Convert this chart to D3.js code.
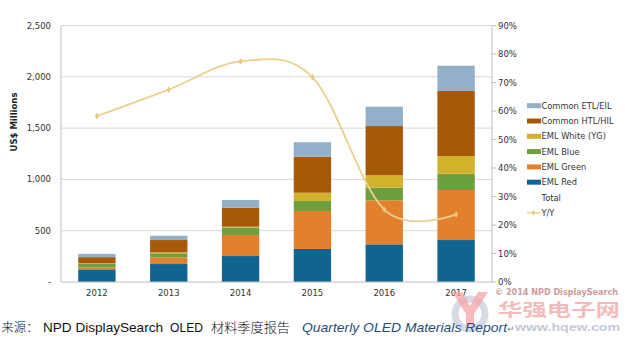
<!DOCTYPE html>
<html><head><meta charset="utf-8">
<script src="https://cdn.jsdelivr.net/npm/d3@7"></script>
<style>html,body{margin:0;padding:0;background:#fff;}svg{display:block;}</style>
</head><body>
<script>
const years = ["2012","2013","2014","2015","2016","2017"];
const emlRed    = [123, 175, 253, 322, 367, 409];
const emlGreen  = [20, 66, 205, 370, 429, 488];
const emlBlue   = [33, 39, 71, 97, 123, 159];
const emlWhite  = [8, 10, 10, 81, 121, 172];
const commonHTL = [58, 119, 185, 351, 480, 634];
const commonETL = [32, 42, 75, 141, 189, 246];
const yoyPct    = [58.2, 67.5, 77.4, 71.9, 25.4, 23.7];
const leftTicks = [0, 500, 1000, 1500, 2000, 2500];
const rightTicks = [0,10,20,30,40,50,60,70,80,90];

const seriesNames = ["EML Red","EML Green","EML Blue","EML White (YG)","Common HTL/HIL","Common ETL/EIL"];
const seriesVals = [emlRed, emlGreen, emlBlue, emlWhite, commonHTL, commonETL];
const colors = ["#0f6491","#e3802c","#6e9f3f","#d2b12b","#a85908","#94afc9"];

const W=625,H=339;
const svg=d3.select("body").append("svg").attr("width",W).attr("height",H);
const font="DejaVu Sans, Verdana, sans-serif";

const x=d3.scaleBand().domain(years).range([61,492]).paddingInner(0.48).paddingOuter(0.24);
const y=d3.scaleLinear().domain([0,2500]).range([282,25.5]);
const y2=d3.scaleLinear().domain([0,90]).range([282,25.5]);

// gridlines
svg.append("g").selectAll("line").data(leftTicks.slice(1)).join("line")
  .attr("x1",61).attr("x2",492).attr("y1",d=>y(d)).attr("y2",d=>y(d))
  .attr("stroke","#d9d9d9").attr("stroke-width",1);

// stacked bars
const table = years.map((yr,i)=>{const o={year:yr};seriesNames.forEach((n,k)=>o[n]=seriesVals[k][i]);return o;});
const stack=d3.stack().keys(seriesNames)(table);
svg.append("g").selectAll("g").data(stack).join("g").attr("fill",(d,i)=>colors[i])
  .selectAll("rect").data(d=>d).join("rect")
  .attr("x",d=>x(d.data.year)).attr("width",x.bandwidth())
  .attr("y",d=>y(d[1])).attr("height",d=>y(d[0])-y(d[1]));

// axes lines
svg.append("line").attr("x1",61).attr("x2",61).attr("y1",25.5).attr("y2",282).attr("stroke","#bfbfbf");
svg.append("line").attr("x1",61).attr("x2",492).attr("y1",282).attr("y2",282).attr("stroke","#bfbfbf");
svg.append("line").attr("x1",492).attr("x2",492).attr("y1",25.5).attr("y2",282).attr("stroke","#bfbfbf");

// left labels
svg.append("g").selectAll("text").data(leftTicks).join("text")
  .attr("x",51).attr("y",d=>y(d)+3).attr("text-anchor","end")
  .attr("font-family",font).attr("font-size",8.5).attr("fill","#333")
  .text(d=>d===0?"-":d3.format(",")(d));
svg.append("text").attr("transform","translate(17,122) rotate(-90)")
  .attr("text-anchor","middle").attr("font-family",font).attr("font-size",8.5)
  .attr("font-weight","bold").attr("fill","#222").text("US$ Millions");

// right axis
svg.append("g").selectAll("line").data(rightTicks).join("line")
  .attr("x1",492).attr("x2",496).attr("y1",d=>y2(d)).attr("y2",d=>y2(d)).attr("stroke","#bfbfbf");
svg.append("g").selectAll("text").data(rightTicks).join("text")
  .attr("x",498).attr("y",d=>y2(d)+3).attr("font-family",font).attr("font-size",8.5).attr("fill","#333")
  .text(d=>d+"%");

// x labels
svg.append("g").selectAll("text").data(years).join("text")
  .attr("x",d=>x(d)+x.bandwidth()/2).attr("y",296).attr("text-anchor","middle")
  .attr("font-family",font).attr("font-size",8.5).attr("fill","#333").text(d=>d);

// Y/Y line
const lineColor="#ebd191";
const line=d3.line().x((d,i)=>x(years[i])+x.bandwidth()/2).y(d=>y2(d)).curve(d3.curveCardinal.tension(0));
svg.append("path").datum(yoyPct).attr("d",line).attr("fill","none").attr("stroke",lineColor).attr("stroke-width",1.8);
svg.append("g").selectAll("path").data(yoyPct).join("path")
  .attr("d",d3.symbol(d3.symbolDiamond,14)())
  .attr("transform",(d,i)=>`translate(${x(years[i])+x.bandwidth()/2},${y2(d)})`)
  .attr("fill","#e6c97e");

// legend
const legendItems=[
  {n:"Common ETL/EIL",c:colors[5]},{n:"Common HTL/HIL",c:colors[4]},{n:"EML White (YG)",c:colors[3]},
  {n:"EML Blue",c:colors[2]},{n:"EML Green",c:colors[1]},{n:"EML Red",c:colors[0]},
  {n:"Total",c:null},{n:"Y/Y",c:"line"}];
const lg=svg.append("g");
legendItems.forEach((it,i)=>{
  const ly=105.7+i*15.3;
  if(it.c==="line"){
    lg.append("line").attr("x1",527).attr("x2",540).attr("y1",ly).attr("y2",ly).attr("stroke",lineColor).attr("stroke-width",1.5);
    lg.append("path").attr("d",d3.symbol(d3.symbolDiamond,10)()).attr("transform",`translate(533.5,${ly})`).attr("fill","#e6c97e");
  } else if(it.c){
    lg.append("rect").attr("x",527).attr("y",ly-2.5).attr("width",14).attr("height",5).attr("fill",it.c);
  }
  lg.append("text").attr("x",541.5).attr("y",ly+3).attr("font-family",font).attr("font-size",8.3).attr("fill","#333").text(it.n);
});

// watermark logo (ring + red Y)
svg.append("circle").attr("cx",470).attr("cy",314).attr("r",15).attr("fill","none")
  .attr("stroke","#c5cbd8").attr("stroke-width",7).attr("opacity",0.7);
svg.append("path").attr("d","M452,292 L462,292 L470,306 L478,292 L488,292 L474,314 L474,326 L466,326 L466,314 Z")
  .attr("fill","#f5a3a5").attr("opacity",0.75);

// watermark text
svg.append("text").attr("x",495).attr("y",294.5).attr("font-family",font).attr("font-size",8)
  .attr("font-weight","bold").attr("fill","#c48a8c").attr("opacity",0.85)
  .attr("textLength",123).attr("lengthAdjust","spacingAndGlyphs").text("© 2014 NPD DisplaySearch");
svg.append("text").attr("x",498).attr("y",316).attr("font-family","Noto Sans CJK SC, sans-serif").attr("font-size",17)
  .attr("font-weight","bold").attr("fill","#f5a3a5").attr("opacity",0.75)
  .attr("textLength",122).attr("lengthAdjust","spacingAndGlyphs").text("华强电子网");
svg.append("text").attr("x",515).attr("y",331).attr("font-family","Liberation Sans, Arial, sans-serif").attr("font-size",11)
  .attr("font-weight","bold").attr("fill","#b5bccb").attr("opacity",0.8)
  .attr("textLength",105).attr("lengthAdjust","spacingAndGlyphs").text("www.hqew.com");

// source text
const srcY=332;
const latin="Liberation Sans, Arial, sans-serif";
const cjk="Noto Sans CJK SC, sans-serif";
svg.append("text").attr("x",1.5).attr("y",srcY).attr("font-family",cjk).attr("font-size",12.5).attr("font-weight",300).attr("fill","#111")
  .attr("textLength",37).attr("lengthAdjust","spacingAndGlyphs").text("来源：");
svg.append("text").attr("x",43).attr("y",srcY).attr("font-family",latin).attr("font-size",13.6).attr("fill","#111")
  .attr("textLength",120).attr("lengthAdjust","spacingAndGlyphs").text("NPD DisplaySearch");
svg.append("text").attr("x",170).attr("y",srcY).attr("font-family",latin).attr("font-size",13.6).attr("fill","#111")
  .attr("textLength",33).attr("lengthAdjust","spacingAndGlyphs").text("OLED");
svg.append("text").attr("x",211).attr("y",srcY).attr("font-family",cjk).attr("font-size",13).attr("font-weight",300).attr("fill","#111")
  .attr("textLength",79).attr("lengthAdjust","spacingAndGlyphs").text("材料季度报告");
svg.append("text").attr("x",302).attr("y",srcY).attr("font-family",latin).attr("font-size",13.6).attr("font-style","italic").attr("fill","#1f4e79")
  .attr("textLength",205).attr("lengthAdjust","spacingAndGlyphs").text("Quarterly OLED Materials Report");
svg.append("text").attr("x",507).attr("y",srcY).attr("font-family",latin).attr("font-size",9).attr("fill","#888").text("↵");
</script>
</body></html>
